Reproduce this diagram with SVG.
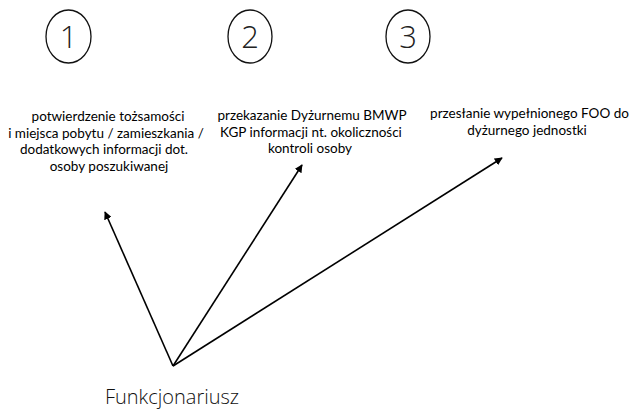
<svg xmlns="http://www.w3.org/2000/svg" width="635" height="409" viewBox="0 0 635 409">
<style>
.num{font-family:"Open Sans","DejaVu Sans",sans-serif;font-weight:300;font-size:31px;fill:#222;text-anchor:middle}
.lbl{font-family:Lato,"Liberation Sans",sans-serif;font-size:13.5px;fill:#000;text-anchor:middle}
.ring{fill:none;stroke:#111;stroke-width:1.3}
.edge{stroke:#000;stroke-width:1.6;fill:none;marker-end:url(#ah)}
.actor{font-family:"Open Sans","DejaVu Sans",sans-serif;font-weight:300;font-size:20px;fill:#111;text-anchor:middle}
</style>
<defs>
<marker id="ah" viewBox="0 0 10 10" refX="9" refY="5" markerWidth="5" markerHeight="5" orient="auto" markerUnits="strokeWidth">
<path d="M0,0 L10,5 L0,10 z" fill="#000"/>
</marker>
</defs>
<g id="step1">
<ellipse class="ring" cx="68.5" cy="36.5" rx="22.5" ry="26.5"/>
<text class="num" x="68.5" y="48">1</text>
<text class="lbl" x="108" y="121">potwierdzenie tożsamości</text>
<text class="lbl" x="106" y="137.5">i miejsca pobytu / zamieszkania /</text>
<text class="lbl" x="104" y="154">dodatkowych informacji dot.</text>
<text class="lbl" x="109" y="170.5">osoby poszukiwanej</text>
</g>
<g id="step2">
<ellipse class="ring" cx="250" cy="36.5" rx="22" ry="26.5"/>
<text class="num" x="250" y="48">2</text>
<text class="lbl" x="312" y="120">przekazanie Dyżurnemu BMWP</text>
<text class="lbl" x="311" y="136.5">KGP informacji nt. okoliczności</text>
<text class="lbl" x="310" y="153">kontroli osoby</text>
</g>
<g id="step3">
<ellipse class="ring" cx="408" cy="36.5" rx="22" ry="26.5"/>
<text class="num" x="408" y="48">3</text>
<text class="lbl" x="529.5" y="118">przesłanie wypełnionego FOO do</text>
<text class="lbl" x="527" y="135">dyżurnego jednostki</text>
</g>
<g id="actor">
<text class="actor" x="172" y="404">Funkcjonariusz</text>
</g>
<g id="connectors">
<line class="edge" x1="173" y1="366" x2="105" y2="212"/>
<line class="edge" x1="173" y1="366" x2="302" y2="165"/>
<line class="edge" x1="173" y1="366" x2="502" y2="158"/>
</g>
</svg>
